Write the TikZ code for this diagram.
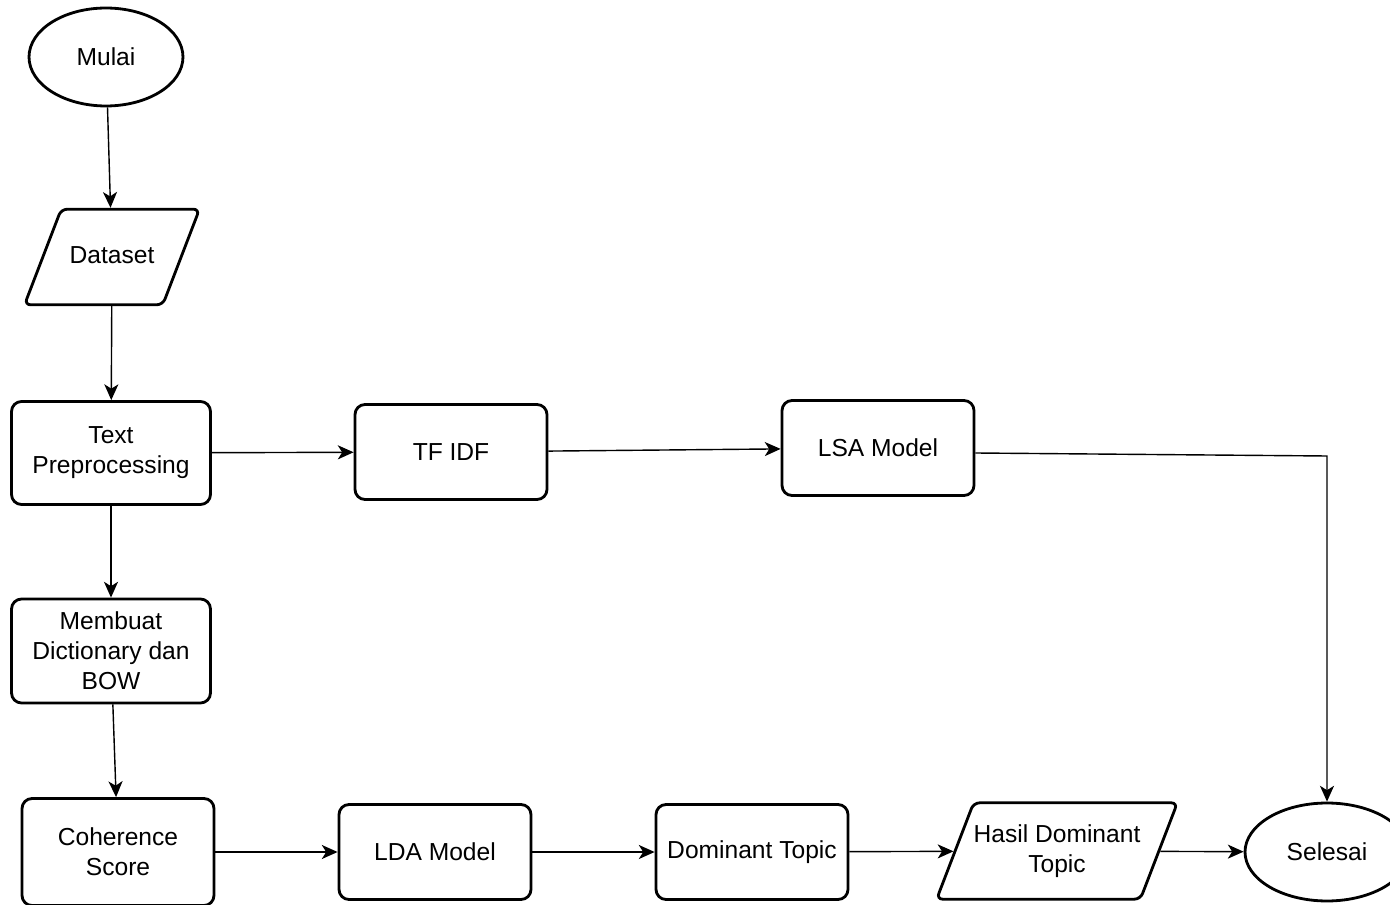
\documentclass[tikz,border=0pt]{standalone}
\usepackage{fontspec}
\setmainfont{Liberation Sans}
\usetikzlibrary{shapes.geometric,arrows.meta}

\begin{document}
\begin{tikzpicture}[x=0.02cm,y=-0.02cm,
    every node/.style={font=\fontsize{14pt}{17pt}\selectfont, align=center},
    terminal/.style={draw, line width=1.6pt, ellipse, minimum width=3.08cm, minimum height=1.96cm},
    process/.style={draw, line width=1.6pt, rounded corners=0.2cm, minimum width=3.84cm, minimum height=1.9cm},
    data/.style={draw, line width=1.6pt, rounded corners=0.12cm, trapezium, trapezium left angle=69,
        trapezium right angle=111, trapezium stretches body, inner xsep=0pt},
    flow/.style={line width=0.8pt, -{Stealth[length=9pt,width=8pt,inset=2.5pt]}}]
    \useasboundingbox (0,0) rectangle (1390,905);
    % left column
    \node[terminal] (mulai) at (106,57) {Mulai};
    \node[data, minimum width=3.5cm, text height=10pt, text depth=3pt, inner ysep=20.7pt] (dataset) at (112,257) {Dataset};
    \node[process, minimum width=3.98cm, minimum height=2.06cm] (prep) at (111,453) {Text\\Preprocessing};
    \node[process, minimum width=3.98cm, minimum height=2.08cm] (bow) at (111,651) {Membuat\\Dictionary dan\\BOW};
    \node[process, minimum height=2.14cm] (coh) at (118,852) {Coherence\\Score};
    % top row
    \node[process] (tfidf) at (451,452) {TF IDF};
    \node[process] (lsa) at (878,448) {LSA Model};
    % bottom row
    \node[process] (lda) at (435,852) {LDA Model};
    \node[process] (dom) at (752,852) {Dominant Topic};
    \node[data, minimum width=4.62cm, inner ysep=12.4pt] (hasil) at (1057,851) {Hasil Dominant\\Topic};
    \node[terminal, minimum width=3.28cm] (selesai) at (1327,852) {Selesai};
    \coordinate (bend) at (1327,456);
    % connectors
    \draw[flow] (mulai) -- (dataset);
    \draw[flow] (dataset) -- (prep);
    \draw[flow] (prep) -- (bow);
    \draw[flow] (bow) -- (coh);
    \draw[flow] (prep) -- (tfidf);
    \draw[flow] (tfidf) -- (lsa);
    \draw[flow] ([yshift=-0.1cm]lsa.east) -- (bend) -- (selesai.north);
    \draw[flow] (coh) -- (lda);
    \draw[flow] (lda) -- (dom);
    \draw[flow] (dom) -- (hasil);
    \draw[flow] (hasil) -- (selesai);
\end{tikzpicture}
\end{document}
